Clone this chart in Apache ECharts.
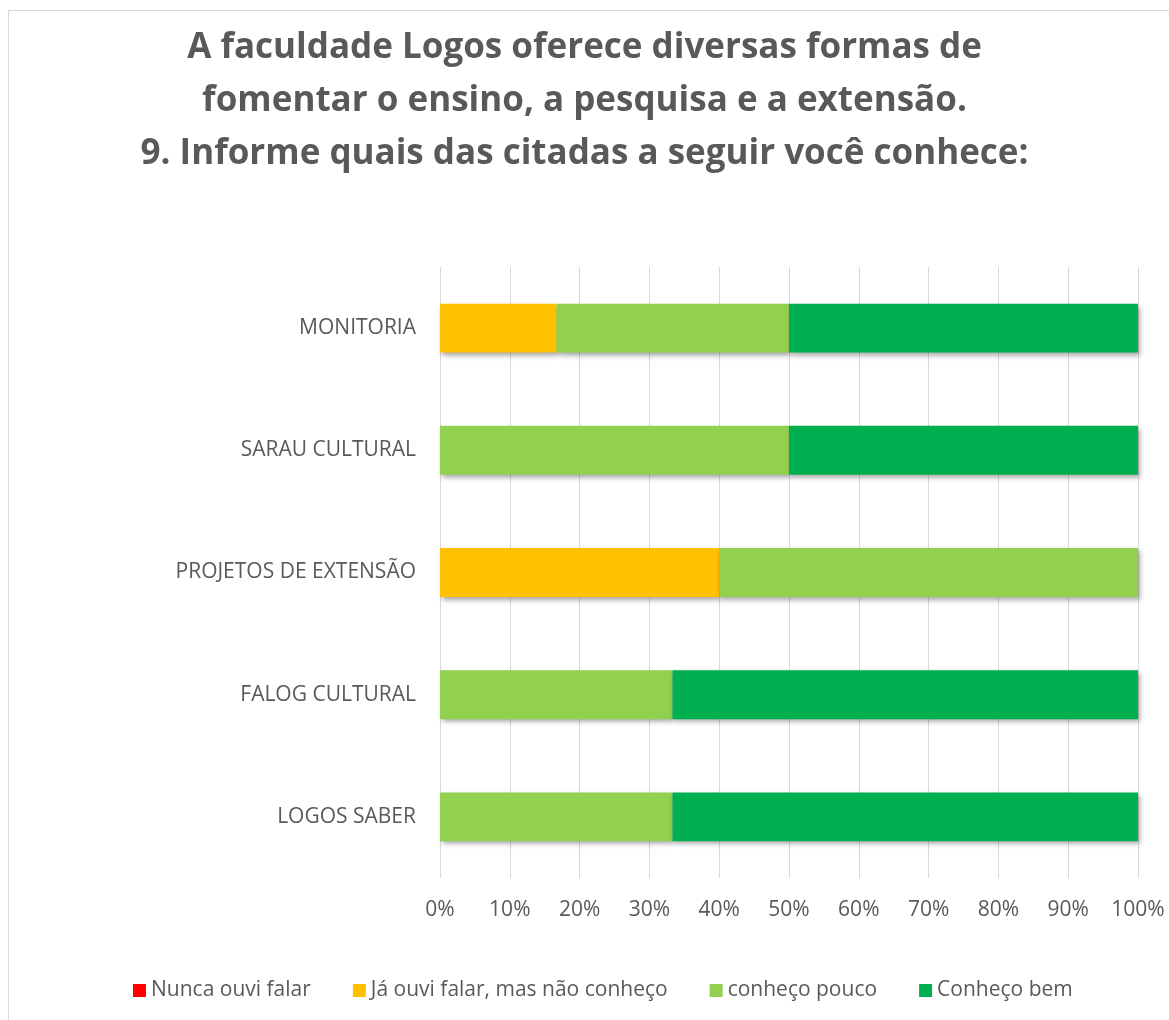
<!DOCTYPE html>
<html>
<head>
<meta charset="utf-8">
<script src="https://cdn.jsdelivr.net/npm/echarts@6/dist/echarts.min.js"></script>
<style>
  html, body { margin: 0; padding: 0; background: #fff; }
  #frame { position: absolute; left: 8px; top: 10px; width: 1175px; height: 1030px; border: 1px solid #d9d9d9; }
  #chart { position: absolute; left: 0; top: 0; width: 1169px; height: 1020px; }
</style>
</head>
<body>
<div id="frame"></div>
<div id="chart"></div>
<script>
// categories, bottom to top as the axis draws them
const categories = ['LOGOS SABER', 'FALOG CULTURAL', 'PROJETOS DE EXTENSÃO', 'SARAU CULTURAL', 'MONITORIA']
const seriesNames = ['Nunca ouvi falar', 'Já ouvi falar, mas não conheço', 'conheço pouco', 'Conheço bem']
const nuncaOuvi = [0, 0, 0, 0, 0]
const jaOuvi = [0, 0, 40, 0, 16.7]
const conhecoPouco = [33.3, 33.3, 60, 50, 33.3]
const conhecoBem = [66.7, 66.7, 0, 50, 50]
const colors = ['#FF0000', '#FFC000', '#92D050', '#00B050']

const font = '"Open Sans", sans-serif'
const chart = echarts.init(document.getElementById('chart'))

const values = [nuncaOuvi, jaOuvi, conhecoPouco, conhecoBem]

chart.setOption({
  animation: false,
  title: {
    text: 'A faculdade Logos oferece diversas formas de\nfomentar o ensino, a pesquisa e a extensão.\n9. Informe quais das citadas a seguir você conhece:',
    left: 'center',
    top: 17,
    textStyle: { fontFamily: font, fontSize: 35, fontWeight: 'bold', color: '#595959', lineHeight: 53 }
  },
  legend: {
    bottom: 14,
    left: 128,
    itemWidth: 13,
    itemHeight: 13,
    itemGap: 42,
    icon: 'rect',
    textStyle: { fontFamily: font, fontSize: 21, color: '#595959' },
    data: seriesNames
  },
  grid: { left: 440, right: 31, top: 267, bottom: 142 },
  xAxis: {
    type: 'value',
    min: 0,
    max: 100,
    interval: 10,
    axisLine: { show: false },
    axisTick: { show: false },
    splitLine: { lineStyle: { color: '#d9d9d9', width: 1 } },
    axisLabel: { formatter: '{value}%', fontFamily: font, fontSize: 21, color: '#595959', margin: 22 }
  },
  yAxis: {
    type: 'category',
    data: categories,
    axisLine: { show: false },
    axisTick: { show: false },
    axisLabel: { fontFamily: font, fontSize: 21, color: '#595959', margin: 24 }
  },
  series: seriesNames.map((name, i) => ({
    name: name,
    type: 'bar',
    stack: 'total',
    barWidth: '40%',
    data: values[i],
    itemStyle: {
      color: colors[i],
      shadowColor: 'rgba(0,0,0,0.35)',
      shadowBlur: 5,
      shadowOffsetX: 2,
      shadowOffsetY: 3
    }
  }))
})
</script>
</body>
</html>
